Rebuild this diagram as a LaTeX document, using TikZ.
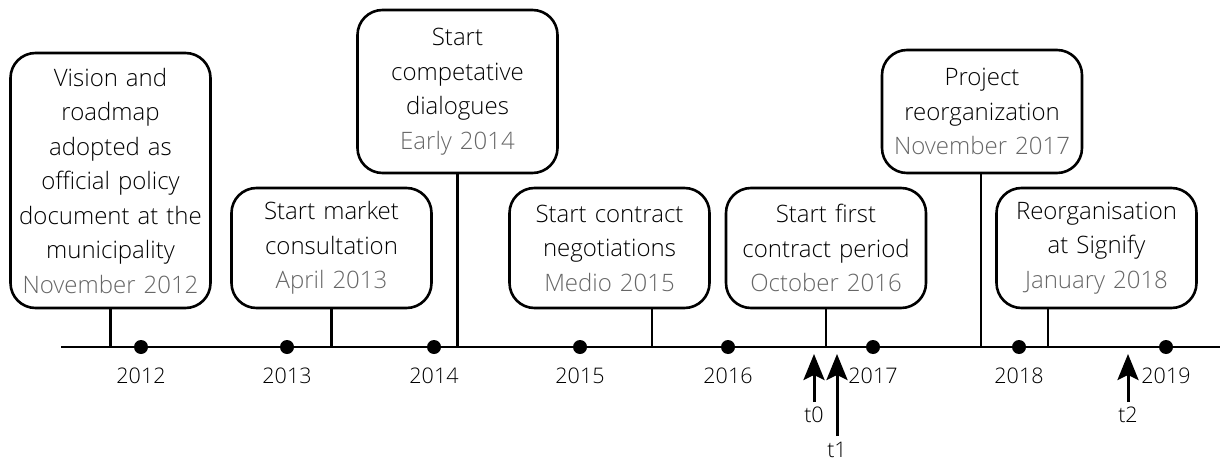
\documentclass[tikz,border=0pt]{standalone}
\usepackage{fontspec}
\setmainfont{Open Sans}[UprightFont=* Light]
\usetikzlibrary{arrows.meta}
\definecolor{ink}{HTML}{000000}
\definecolor{when}{HTML}{666666}
\begin{document}
\begin{tikzpicture}[x=1pt,y=-1pt,
  event/.style={draw=black, line width=2.6pt, rounded corners=25pt, align=center,
    inner sep=0pt, text width=200pt, minimum width=200pt, text=ink,
    font=\fontsize{24}{34.5}\selectfont},
  stem/.style={line width=2.6pt},
  axisline/.style={line width=2.6pt},
  yeardot/.style={circle, fill=black, inner sep=0pt, minimum size=14pt},
  yearlbl/.style={font=\fontsize{21.5}{26}\selectfont, text=ink, anchor=base, inner sep=0pt},
  marker/.style={line width=3pt, -{Stealth[length=26pt, width=21pt, inset=5pt]}},
]
\useasboundingbox (0,0) rectangle (1220,460);

% event boxes
\node[event, minimum height=255pt] (b1) at (110.5,180.5)
  {Vision and\\roadmap\\adopted as\\official policy\\document at the\\municipality\\\textcolor{when}{November 2012}};
\node[event, minimum height=120pt] (b2) at (331.5,248)
  {Start market\\consultation\\\textcolor{when}{April 2013}};
\node[event, minimum height=163pt] (b3) at (457.5,91.5)
  {Start\\competative\\dialogues\\\textcolor{when}{Early 2014}};
\node[event, minimum height=120pt] (b4) at (609.5,248)
  {Start contract\\negotiations\\\textcolor{when}{Medio 2015}};
\node[event, minimum height=120pt] (b5) at (826,248)
  {Start first\\contract period\\\textcolor{when}{October 2016}};
\node[event, minimum height=123pt] (b6) at (982,111.5)
  {Project\\reorganization\\\textcolor{when}{November 2017}};
\node[event, minimum height=120pt] (b7) at (1096.5,248)
  {Reorganisation\\at Signify\\\textcolor{when}{January 2018}};

% time axis
\coordinate (axL) at (61,347);
\coordinate (axR) at (1220,347);
\draw[axisline] (axL) -- (axR);

% stems from the boxes to the axis
\coordinate (a1) at (110.5,347);
\coordinate (a2) at (331.5,347);
\coordinate (a3) at (457.5,347);
\coordinate (a4) at (652,347);
\coordinate (a5) at (826,347);
\coordinate (a6) at (981,347);
\coordinate (a7) at (1048,347);
\foreach \i in {1,...,7} {
  \draw[stem] (b\i.south -| a\i) -- (a\i);
}

% year dots and labels
\foreach \yr/\xx in {2012/141, 2013/287, 2014/434, 2015/580, 2016/728, 2017/873, 2018/1019, 2019/1166} {
  \node[yeardot] (d\yr) at (\xx,347) {};
  \node[yearlbl] (y\yr) at (\xx,383) {\yr};
}

% measurement moments
\coordinate (t0tail) at (814,402);
\coordinate (t0tip) at (814,354);
\coordinate (t1tail) at (837,436);
\coordinate (t1tip) at (837,354);
\coordinate (t2tail) at (1128,402);
\coordinate (t2tip) at (1128,354);
\draw[marker] (t0tail) -- (t0tip);
\draw[marker] (t1tail) -- (t1tip);
\draw[marker] (t2tail) -- (t2tip);
\node[yearlbl] (t0) at (814,422) {t0};
\node[yearlbl] (t1) at (837,457) {t1};
\node[yearlbl] (t2) at (1128,422) {t2};
\end{tikzpicture}
\end{document}
